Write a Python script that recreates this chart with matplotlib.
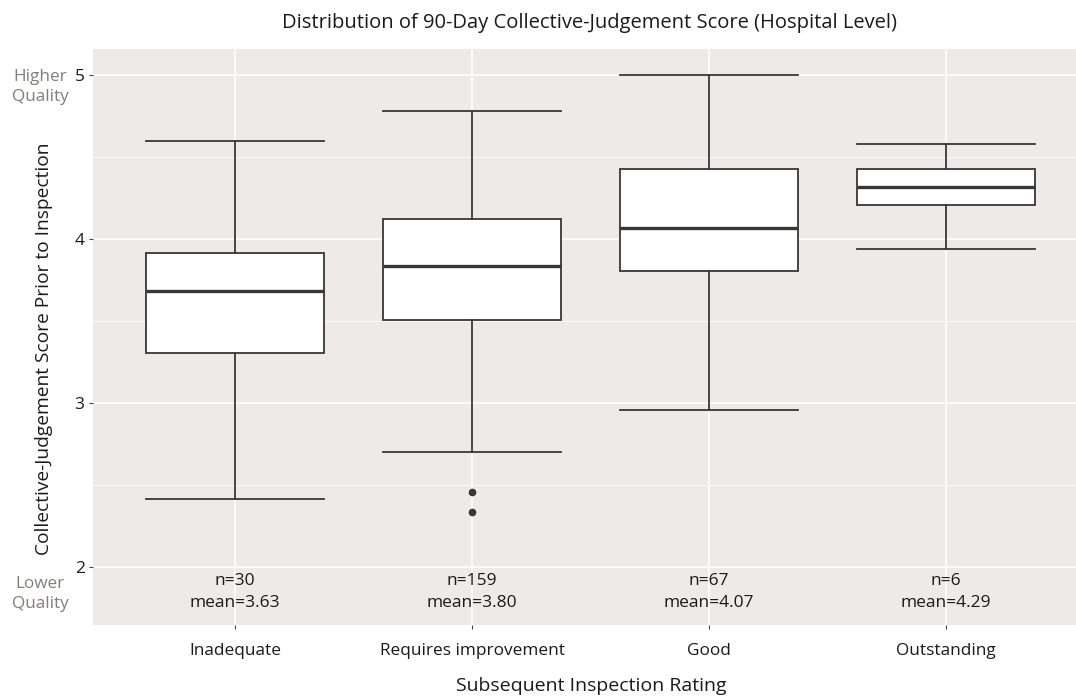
import matplotlib.pyplot as plt

plt.rcParams['font.family'] = ['Open Sans', 'DejaVu Sans']

# values
categories = ['Inadequate', 'Requires improvement', 'Good', 'Outstanding']
whisker_low = [2.415, 2.70, 2.957, 3.939]
q1 = [3.305, 3.506, 3.805, 4.207]
median = [3.683, 3.835, 4.067, 4.317]
q3 = [3.915, 4.122, 4.427, 4.427]
whisker_high = [4.598, 4.78, 5.0, 4.579]
outliers = [[], [2.457, 2.335], [], []]
counts = [30, 159, 67, 6]
means = [3.63, 3.80, 4.07, 4.29]

y_ticks = [2, 3, 4, 5]

bg = '#EEEAE8'
edge = '#3B3636'
grey_txt = '#857C78'
dark_txt = '#1a1a1a'

fig = plt.figure(figsize=(10.76, 6.97), dpi=100)
ax = fig.add_axes([93 / 1076, 72 / 697, 995 / 1076, 576 / 697])
ax.set_facecolor(bg)

stats = []
for i, cat in enumerate(categories):
    stats.append(dict(label=cat, whislo=whisker_low[i], q1=q1[i], med=median[i],
                      q3=q3[i], whishi=whisker_high[i], fliers=outliers[i]))

ax.bxp(stats, positions=range(1, len(categories) + 1), widths=0.75, patch_artist=True,
       showcaps=True, showfliers=True,
       boxprops=dict(facecolor='white', edgecolor=edge, linewidth=1.3),
       medianprops=dict(color=edge, linewidth=2.4),
       whiskerprops=dict(color=edge, linewidth=1.3),
       capprops=dict(color=edge, linewidth=1.3),
       flierprops=dict(marker='o', markerfacecolor=edge, markeredgecolor=edge, markersize=4.5),
       capwidths=0.75, zorder=3)

# n and mean under each box
for i, (n, m) in enumerate(zip(counts, means)):
    ax.text(i + 1, 1.848, f'n={n}\nmean={m:.2f}', ha='center', va='center',
            fontsize=12.5, color=dark_txt, linespacing=1.5, zorder=4)

ax.set_xlim(0.4, 4.6)
ax.set_ylim(1.646, 5.159)
ax.set_yticks(y_ticks)
ax.set_yticks([2.5, 3.5, 4.5], minor=True)
ax.set_xticks(range(1, len(categories) + 1))
ax.set_xticklabels(categories, fontsize=12.4, color=dark_txt)
ax.set_yticklabels([str(t) for t in y_ticks], fontsize=12.5, color=dark_txt)

ax.grid(True, which='major', color='white', linewidth=1.2, zorder=0)
ax.grid(True, which='minor', axis='y', color='white', linewidth=0.6, zorder=0)
ax.set_axisbelow(True)
for s in ax.spines.values():
    s.set_visible(False)
ax.tick_params(axis='both', which='major', length=3, color='#444444', width=0.8)
ax.tick_params(axis='x', which='major', pad=10)
ax.tick_params(axis='y', which='major', pad=3)
ax.tick_params(axis='y', which='minor', length=0)

fig.text(40 / 1076, 1 - 87 / 697, 'Higher\nQuality', ha='center', va='center',
         fontsize=12.3, color=grey_txt, linespacing=1.35)
fig.text(40 / 1076, 1 - 594 / 697, 'Lower\nQuality', ha='center', va='center',
         fontsize=12.3, color=grey_txt, linespacing=1.35)

fig.text(589 / 1076, 1 - 23 / 697, 'Distribution of 90-Day Collective-Judgement Score (Hospital Level)',
         ha='center', va='center', fontsize=14.5, color=dark_txt)
fig.text(591 / 1076, 1 - 686 / 697, 'Subsequent Inspection Rating',
         ha='center', va='center', fontsize=14, color=dark_txt)
fig.text(44 / 1076, 1 - 349 / 697, 'Collective-Judgement Score Prior to Inspection',
         ha='center', va='center', rotation=90, fontsize=13.8, color=dark_txt)

fig.savefig('out.png', dpi=100)
